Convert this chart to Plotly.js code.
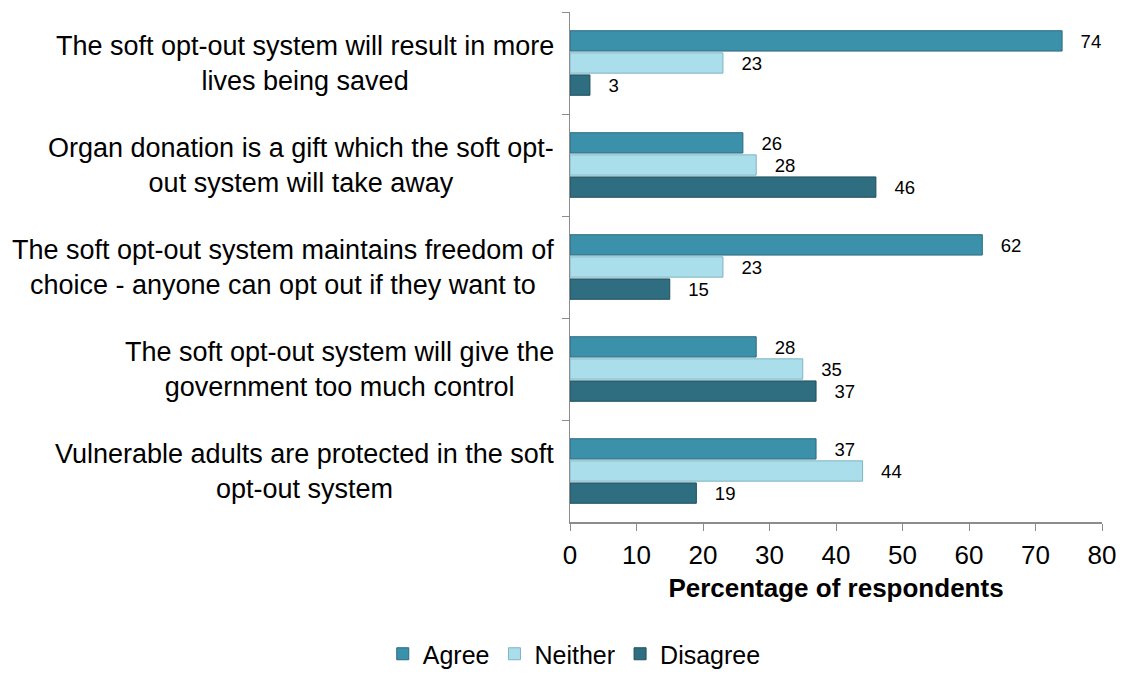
<!DOCTYPE html>
<html>
<head>
<meta charset="utf-8">
<script src="https://cdn.plot.ly/plotly-3.0.1.min.js"></script>
<style>html,body{margin:0;padding:0;background:#fff;}#chart{width:1126px;height:677px;}</style>
</head>
<body>
<div id="chart"></div>
<script>
var categories = [
  "The soft opt-out system will result in more<br>lives being saved",
  "Organ donation is a gift which the soft opt-<br>out system will take away",
  "The soft opt-out system maintains freedom of<br>choice - anyone can opt out if they want to",
  "The soft opt-out system will give the<br>government too much control",
  "Vulnerable adults are protected in the soft<br>opt-out system"
];
var agree = [74, 26, 62, 28, 37];
var neither = [23, 28, 23, 35, 44];
var disagree = [3, 46, 15, 37, 19];
var xTitle = "Percentage of respondents";

var FONT = "Liberation Sans, Arial, sans-serif";

function mk(name, vals, color, lineColor) {
  return {
    type: "bar", orientation: "h", name: name,
    x: vals, y: categories,
    marker: {color: color, line: {color: lineColor, width: 1}},
    text: vals.map(function(v){ return "   " + v; }),
    textposition: "outside",
    textfont: {family: FONT, size: 21, color: "#000"},
    cliponaxis: false,
    hoverinfo: "x"
  };
}

var data = [
  mk("Agree", agree, "#3b91aa", "#2a6a80"),
  mk("Neither", neither, "#aadeeb", "#7fb3c2"),
  mk("Disagree", disagree, "#2e6e80", "#1f4f5c")
];

var annotations = categories.map(function(c){
  return {
    text: c, xref: "paper", yref: "y", x: 0, y: c,
    xanchor: "right", yanchor: "middle", align: "center", xshift: -14,
    showarrow: false, font: {family: FONT, size: 27, color: "#000"}
  };
});

var layout = {
  width: 1126, height: 677,
  margin: {l: 570, r: 24, t: 12, b: 155},
  paper_bgcolor: "#fff", plot_bgcolor: "#fff",
  barmode: "group", bargap: 0.35, bargroupgap: 0.08,
  font: {family: FONT, size: 26, color: "#000"},
  xaxis: {
    range: [0, 80], dtick: 10, tick0: 0,
    showgrid: false, zeroline: false,
    showline: true, linecolor: "#8c8c8c", linewidth: 1.5,
    ticks: "outside", ticklen: 7, tickcolor: "#8c8c8c",
    ticklabelstandoff: 2,
    tickfont: {family: FONT, size: 26, color: "#000"},
    title: {text: "<b>" + xTitle + "</b>", font: {family: FONT, size: 26, color: "#000"}, standoff: 10}
  },
  yaxis: {
    type: "category", range: [4.5, -0.5],
    showgrid: false, zeroline: false,
    showline: true, linecolor: "#8c8c8c", linewidth: 1.5,
    ticks: "outside", tickson: "boundaries", ticklen: 7, tickcolor: "#8c8c8c",
    showticklabels: false
  },
  showlegend: true,
  legend: {
    orientation: "h", xref: "container", yref: "container",
    x: 0.51, xanchor: "center", y: 0.0, yanchor: "bottom",
    font: {family: FONT, size: 25, color: "#000"},
    itemwidth: 30, tracegroupgap: 0
  },
  annotations: annotations
};

Plotly.newPlot("chart", data, layout, {displayModeBar: false, staticPlot: true});
</script>
</body>
</html>
